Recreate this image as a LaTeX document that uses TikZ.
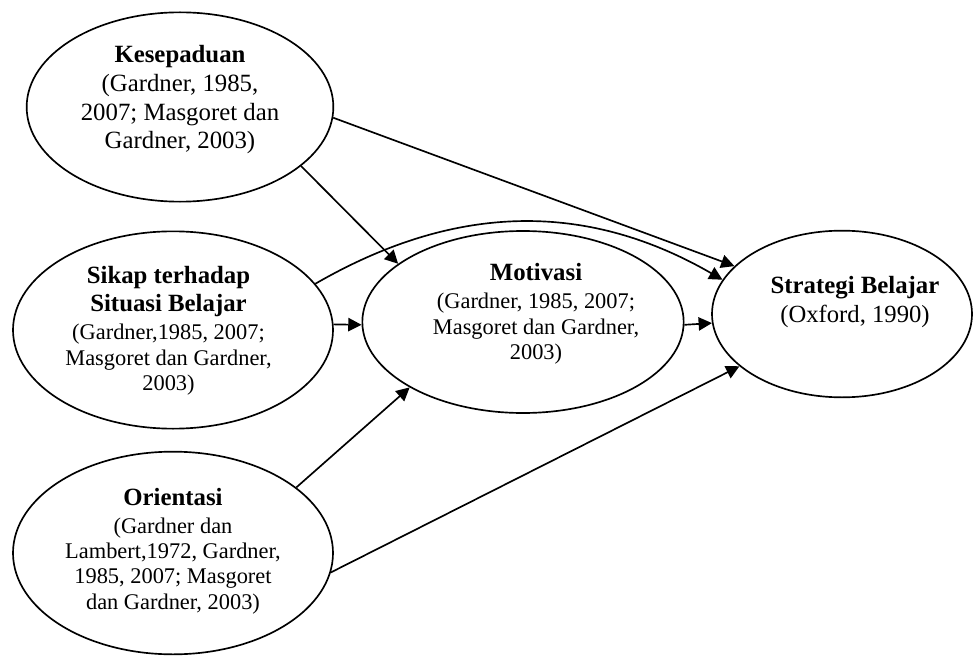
\documentclass[tikz,border=0pt]{standalone}
\usepackage{fontspec}
\setmainfont{Liberation Serif}
\usetikzlibrary{arrows.meta}
\usetikzlibrary{shapes.geometric}

\newcommand{\ctitle}[1]{{\fontsize{18.6}{21}\selectfont\bfseries #1}}

\begin{document}
\begin{tikzpicture}[x=0.75pt,y=-0.75pt,line width=1.25pt,>={Triangle[length=10pt,width=10pt]},
    construct/.style={draw, ellipse, inner sep=0pt},
    caption/.style={align=center, inner sep=0pt, font=\fontsize{16.8}{19}\selectfont}]
    \useasboundingbox (0,0) rectangle (974,656);

    % the five ellipses
    \node[construct, minimum width=230pt, minimum height=142pt] (kesepaduan) at (180,107) {};
    \node[construct, minimum width=240pt, minimum height=148pt] (sikap) at (173,330) {};
    \node[construct, minimum width=240pt, minimum height=152pt] (orientasi) at (173,553) {};
    \node[construct, minimum width=241pt, minimum height=136.5pt] (motivasi) at (523,322) {};
    \node[construct, minimum width=195pt, minimum height=125pt] (strategi) at (842,314) {};

    % their texts
    \node[caption, font=\fontsize{18.6}{21.5}\selectfont] (kesepaduan-text) at (180,100)
        {\ctitle{Kesepaduan}\\(Gardner, 1985,\\2007; Masgoret dan\\Gardner, 2003)};
    \node[caption] (sikap-text) at (168.5,331)
        {\ctitle{Sikap terhadap}\\[2pt]\ctitle{Situasi Belajar}\\[2pt](Gardner,1985, 2007;\\Masgoret dan Gardner,\\2003)};
    \node[caption] (orientasi-text) at (173,551)
        {\ctitle{Orientasi}\\[2pt](Gardner dan\\Lambert,1972, Gardner,\\1985, 2007; Masgoret\\dan Gardner, 2003)};
    \node[caption] (motivasi-text) at (536,314)
        {\ctitle{Motivasi}\\[2pt](Gardner, 1985, 2007;\\Masgoret dan Gardner,\\2003)};
    \node[caption, font=\fontsize{18.5}{21.7}\selectfont] (strategi-text) at (855,302)
        {\ctitle{Strategi Belajar}\\(Oxford, 1990)};

    \draw[->] (kesepaduan.-4.5) -- (strategi.156);
    \draw[->] (kesepaduan.-26) -- (motivasi.155.5);
    \draw[->] (sikap.18.7) to[out=30,in=150] (strategi.164.3);
    \draw[->] (sikap.2) -- (motivasi.181.8);
    \draw[->] (motivasi.-1) -- (strategi.184.8);
    \draw[->] (orientasi.28) -- (motivasi.210.7);
    \draw[->] (orientasi.-7) -- (strategi.207.2);
\end{tikzpicture}
\end{document}
